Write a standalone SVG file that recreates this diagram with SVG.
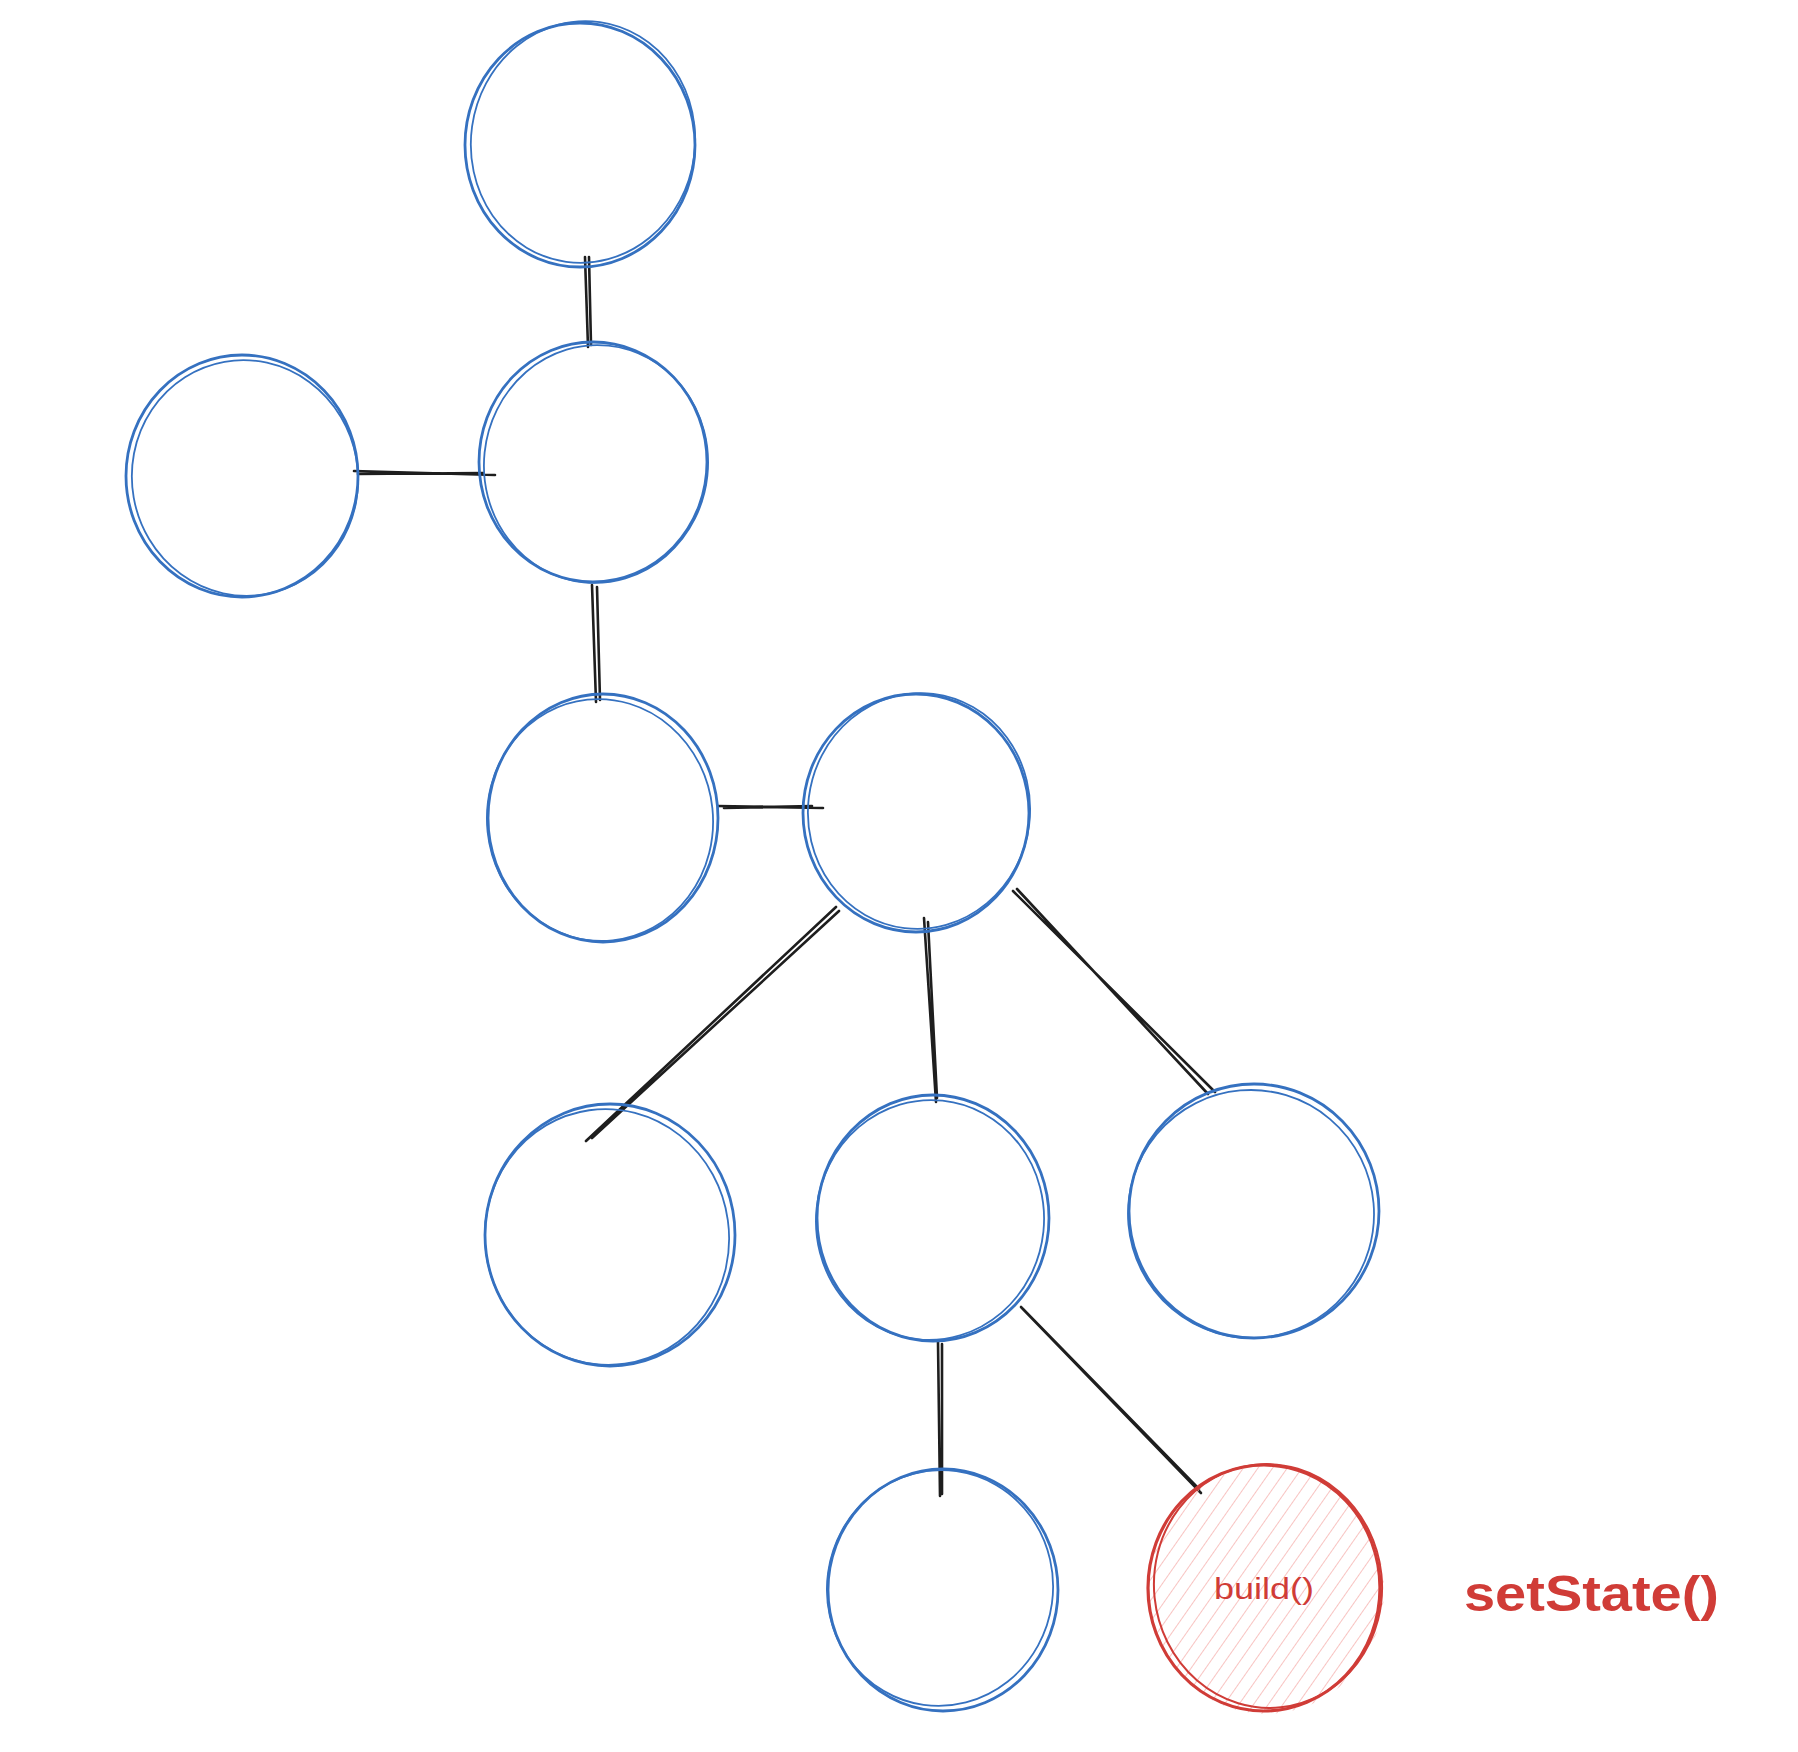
<svg xmlns="http://www.w3.org/2000/svg" width="1798" height="1752" viewBox="0 0 1798 1752">
<style>
.n{fill:none;stroke:#3571c0;stroke-width:2.8;stroke-linecap:round}
.n2{fill:none;stroke:#3571c0;stroke-width:1.8;stroke-linecap:round}
.r{fill:none;stroke:#d03c37;stroke-width:3.2;stroke-linecap:round}
.r2{fill:none;stroke:#d03c37;stroke-width:2;stroke-linecap:round}
.e{stroke:#1e1e1e;stroke-width:2.6;stroke-linecap:round;fill:none}
.t{fill:#d03c37;font-family:"Liberation Sans",Arial,sans-serif}
</style>
<defs>
<pattern id="hatch" patternUnits="userSpaceOnUse" width="12" height="12" patternTransform="rotate(35)">
<line x1="0" y1="0" x2="0" y2="12" stroke="#f7b5b2" stroke-width="1.6"/>
</pattern>
<clipPath id="rc"><ellipse cx="1266" cy="1590" rx="118" ry="124"/></clipPath>
</defs>
<rect width="1798" height="1752" fill="#ffffff"/>
<g id="connectors">
<path class="e" d="M585 257 L588 347 M589 257 L591 345"/>
<path class="e" d="M354 471 L495 475 M358 474 L483 473"/>
<path class="e" d="M592 585 L596 702 M597 587 L600 700"/>
<path class="e" d="M718 806 L823 808 M724 808 L812 806"/>
<path class="e" d="M836 907 L586 1141 M839 911 L592 1138"/>
<path class="e" d="M924 918 L936 1102 M928 922 L937 1098"/>
<path class="e" d="M1013 891 L1215 1092 M1017 889 L1208 1094"/>
<path class="e" d="M938 1342 L940 1496 M942 1344 L942 1494"/>
<path class="e" d="M1021 1307 L1201 1493 M1023 1309 L1199 1489"/>
</g>
<g id="node-top">
<ellipse class="n" cx="580" cy="145" rx="115" ry="122"/>
<ellipse class="n2" cx="583" cy="142" rx="112" ry="121" transform="rotate(8 583 142)"/>
</g>
<g id="node-left">
<ellipse class="n" cx="242" cy="476" rx="116" ry="121"/>
<ellipse class="n2" cx="245" cy="478" rx="113" ry="118" transform="rotate(-10 245 478)"/>
</g>
<g id="node-mid">
<ellipse class="n" cx="593" cy="462" rx="114" ry="120"/>
<ellipse class="n2" cx="596" cy="464" rx="112" ry="119" transform="rotate(6 596 464)"/>
</g>
<g id="node-row3-left">
<ellipse class="n" cx="603" cy="818" rx="115" ry="124"/>
<ellipse class="n2" cx="600" cy="820" rx="113" ry="121" transform="rotate(-6 600 820)"/>
</g>
<g id="node-row3-right">
<ellipse class="n" cx="916" cy="813" rx="113" ry="119"/>
<ellipse class="n2" cx="919" cy="811" rx="111" ry="118" transform="rotate(7 919 811)"/>
</g>
<g id="node-row4-left">
<ellipse class="n" cx="610" cy="1235" rx="125" ry="131"/>
<ellipse class="n2" cx="607" cy="1237" rx="122" ry="128" transform="rotate(-8 607 1237)"/>
</g>
<g id="node-row4-mid">
<ellipse class="n" cx="933" cy="1218" rx="116" ry="123"/>
<ellipse class="n2" cx="930" cy="1220" rx="114" ry="120" transform="rotate(6 930 1220)"/>
</g>
<g id="node-row4-right">
<ellipse class="n" cx="1254" cy="1211" rx="125" ry="127"/>
<ellipse class="n2" cx="1251" cy="1214" rx="123" ry="124" transform="rotate(-5 1251 1214)"/>
</g>
<g id="node-row5-left">
<ellipse class="n" cx="943" cy="1590" rx="115" ry="121"/>
<ellipse class="n2" cx="940" cy="1588" rx="113" ry="118" transform="rotate(8 940 1588)"/>
</g>
<g id="node-build">
<rect x="1140" y="1460" width="252" height="260" fill="url(#hatch)" clip-path="url(#rc)"/>
<ellipse class="r" cx="1264" cy="1588" rx="116" ry="123"/>
<ellipse class="r2" cx="1268" cy="1586" rx="114" ry="122" transform="rotate(-6 1268 1586)"/>
<text class="t" x="1264" y="1599" font-size="30" text-anchor="middle" textLength="100" lengthAdjust="spacingAndGlyphs">build()</text>
</g>
<g id="label-setState">
<text class="t" x="1464" y="1611" font-size="50" font-weight="bold" textLength="255" lengthAdjust="spacingAndGlyphs">setState()</text>
</g>
</svg>
